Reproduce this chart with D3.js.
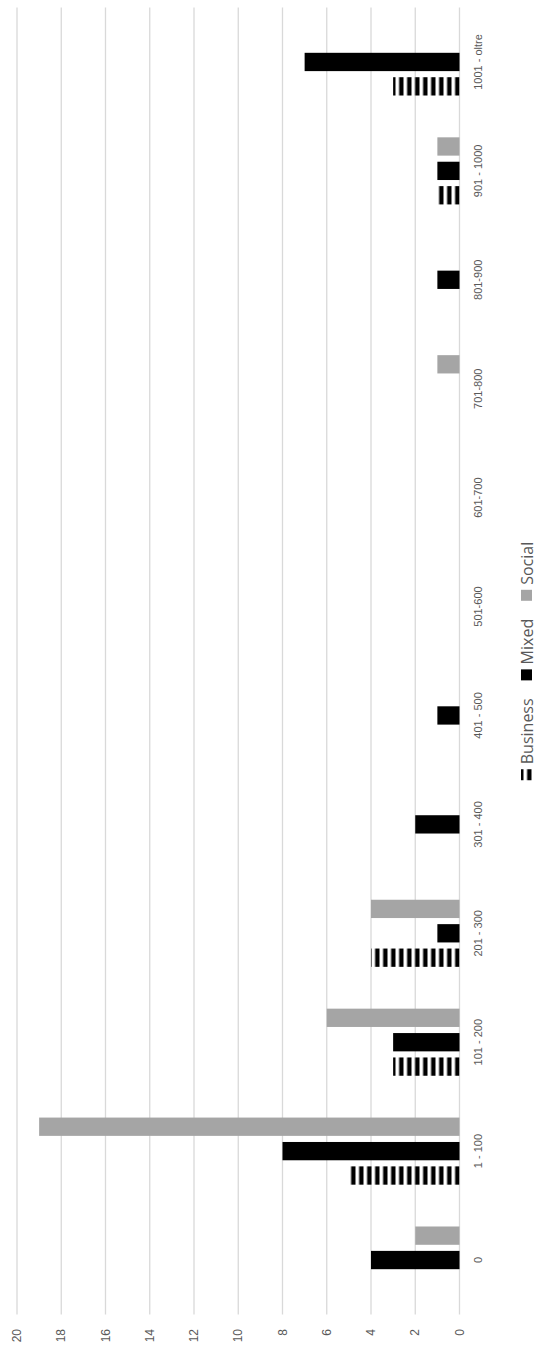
<!DOCTYPE html>
<html>
<head>
<meta charset="utf-8">
<script src="https://cdn.jsdelivr.net/npm/d3@7"></script>
<style>
  html, body { margin: 0; padding: 0; background: #fff; }
  svg { display: block; }
</style>
</head>
<body>
<div id="chart"></div>
<script>
const categories = ["0", "1 - 100", "101 - 200", "201 - 300", "301 - 400", "401 - 500",
  "501-600", "601-700", "701-800", "801-900", "901 - 1000", "1001 - oltre"];
const seriesNames = ["Business", "Mixed", "Social"];
const business = [0, 5, 3, 4, 0, 0, 0, 0, 0, 0, 1, 3];
const mixed    = [4, 8, 3, 1, 2, 1, 0, 0, 0, 1, 1, 7];
const social   = [2, 19, 6, 4, 0, 0, 0, 0, 1, 0, 1, 0];
const valueTicks = [0, 2, 4, 6, 8, 10, 12, 14, 16, 18, 20];

const W = 539, H = 1351;
const svg = d3.select("#chart").append("svg").attr("width", W).attr("height", H);

// pattern for Business (stripes)
const defs = svg.append("defs");
const pat = defs.append("pattern").attr("id", "stripes")
  .attr("patternUnits", "userSpaceOnUse")
  .attr("x", 0).attr("y", 459.5).attr("width", 20).attr("height", 8);
pat.append("rect").attr("x", 0).attr("y", 3.6).attr("width", 20).attr("height", 4.4).attr("fill", "#000");

// Unrotated chart drawn in a group rotated -90deg
const g = svg.append("g").attr("transform", `translate(0,${H}) rotate(-90)`);

const x0 = d3.scaleBand().domain(categories).range([36.5, 1343.5]).paddingInner(0).paddingOuter(0);
const half = 36.6;
const x1 = d3.scaleBand().domain(seriesNames).range([-half, half]).paddingInner(0.25).paddingOuter(0.125);
const y = d3.scaleLinear().domain([0, 20]).range([459.5, 17]);

// gridlines
g.append("g").selectAll("line").data(valueTicks).join("line")
  .attr("x1", 36.5).attr("x2", 1343.5)
  .attr("y1", d => y(d)).attr("y2", d => y(d))
  .attr("stroke", "#d9d9d9").attr("stroke-width", 1.3);

// value tick labels
g.append("g").selectAll("text").data(valueTicks).join("text")
  .attr("x", 22).attr("y", d => y(d)).attr("dy", "0.35em")
  .attr("text-anchor", "end")
  .attr("font-family", "Liberation Sans, Arial, sans-serif").attr("font-size", 12)
  .attr("fill", "#595959").text(d => d);

// category labels
g.append("g").selectAll("text").data(categories).join("text")
  .attr("x", d => x0(d) + x0.bandwidth() / 2).attr("y", 478).attr("dy", "0.35em")
  .attr("text-anchor", "middle")
  .attr("font-family", "Liberation Sans, Arial, sans-serif").attr("font-size", 11)
  .attr("fill", "#595959").text(d => d);

// bars
const seriesData = { Business: business, Mixed: mixed, Social: social };
const fills = { Business: "url(#stripes)", Mixed: "#000000", Social: "#a5a5a5" };
const rows = [];
categories.forEach((c, i) => {
  seriesNames.forEach(s => rows.push({ c, s, v: seriesData[s][i] }));
});
g.append("g").selectAll("rect").data(rows.filter(d => d.v > 0)).join("rect")
  .attr("x", d => x0(d.c) + x0.bandwidth() / 2 + x1(d.s))
  .attr("width", x1.bandwidth())
  .attr("y", d => y(d.v))
  .attr("height", d => y(0) - y(d.v))
  .attr("fill", d => fills[d.s]);

// legend
const legend = g.append("g").attr("font-family", "Open Sans, Calibri, sans-serif").attr("font-size", 16).attr("fill", "#595959");
const legendV = 527;
const items = [];
let cursor = 0;
seriesNames.forEach((s, i) => {
  const it = legend.append("g");
  it.append("rect").attr("x", 0).attr("y", legendV - 6).attr("width", 11).attr("height", 11).attr("fill", fills[s]);
  const t = it.append("text").attr("x", 16).attr("y", legendV).attr("dy", "0.35em").text(s);
  const w = 16 + t.node().getComputedTextLength();
  items.push({ it, w });
});
const gap = 18;
const total = d3.sum(items, d => d.w) + gap * (items.length - 1);
let start = (36.5 + 1343.5) / 2 - total / 2;
items.forEach(d => { d.it.attr("transform", `translate(${start},0)`); start += d.w + gap; });
</script>
</body>
</html>
